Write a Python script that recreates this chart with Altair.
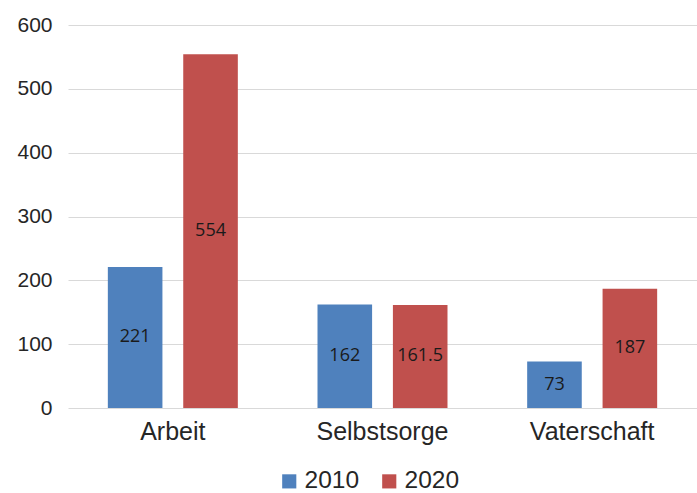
import altair as alt
import pandas as pd

categories = ["Arbeit", "Selbstsorge", "Vaterschaft"]
years = ["2010", "2020"]
values_2010 = [221, 162, 73]
values_2020 = [554, 161.5, 187]
labels_2010 = ["221", "162", "73"]
labels_2020 = ["554", "161.5", "187"]

rows = []
for i, c in enumerate(categories):
    rows.append({"Kategorie": c, "Jahr": years[0], "Wert": values_2010[i], "Label": labels_2010[i]})
    rows.append({"Kategorie": c, "Jahr": years[1], "Wert": values_2020[i], "Label": labels_2020[i]})
df = pd.DataFrame(rows)

font = "Liberation Sans"

x_enc = alt.X(
    "Kategorie:N",
    sort=categories,
    scale=alt.Scale(paddingInner=0.38, paddingOuter=0.19),
    axis=alt.Axis(title=None, labelAngle=0, labelFont=font, labelFontSize=25,
                  labelColor="#262626", labelPadding=11, ticks=False, domain=False,
                  grid=False),
)
xoff_enc = alt.XOffset("Jahr:N", sort=years, scale=alt.Scale(paddingInner=0.276, paddingOuter=0))

bars = alt.Chart(df).mark_bar().encode(
    x=x_enc,
    xOffset=xoff_enc,
    y=alt.Y("Wert:Q", scale=alt.Scale(domain=[0, 600]),
            axis=alt.Axis(title=None, values=[0, 100, 200, 300, 400, 500, 600],
                          labelFont=font, labelFontSize=21, labelColor="#262626",
                          labelPadding=16, ticks=False, domain=False,
                          grid=True, gridColor="#d9d9d9", gridWidth=1)),
    color=alt.Color("Jahr:N", sort=years,
                    scale=alt.Scale(domain=years, range=["#4F81BD", "#C0504D"]),
                    legend=alt.Legend(title=None, orient="none", direction="horizontal",
                                      legendX=209, legendY=444, symbolType="square",
                                      symbolSize=200, symbolStrokeWidth=0,
                                      labelFont=font, labelFontSize=24.5, labelColor="#262626",
                                      labelOffset=3, columnPadding=17)),
)

# value labels centred inside each bar
texts = alt.Chart(df).transform_calculate(
    mid="datum.Wert / 2"
).mark_text(font="Open Sans", fontSize=18, color="#1a1a1a", baseline="middle").encode(
    x=alt.X("Kategorie:N", sort=categories),
    xOffset=alt.XOffset("Jahr:N", sort=years),
    y=alt.Y("mid:Q"),
    text="Label:N",
)

chart = alt.layer(bars, texts).properties(
    width=629, height=383,
    background="white",
    autosize=alt.AutoSizeParams(type="none"),
    padding={"left": 68, "top": 25, "right": 0, "bottom": 85},
).configure_view(stroke=None)

chart.save("out.html", embed_options={"renderer": "svg", "actions": False})
